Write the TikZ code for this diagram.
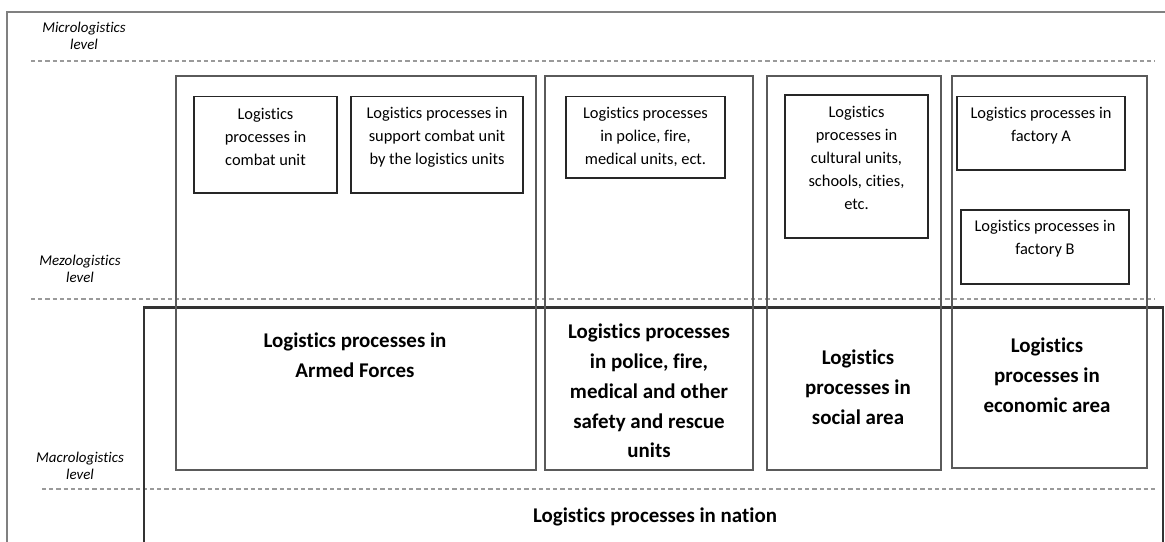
\documentclass[tikz,border=0pt]{standalone}
\usepackage{fontspec}
\setmainfont{Carlito}[Ligatures=NoCommon]
\definecolor{framegray}{HTML}{808080}
\definecolor{boxgray}{HTML}{5A5A5A}
\definecolor{nationgray}{HTML}{333333}
\definecolor{sepgray}{HTML}{9A9A9A}
\begin{document}
\begin{tikzpicture}[x=0.75pt,y=-0.75pt,
  level/.style={align=center,font=\fontsize{11.2}{12.8}\selectfont\itshape},
  unit/.style={align=center,font=\fontsize{12.3}{17.3}\selectfont},
  area/.style={align=center,font=\fontsize{15.7}{22.3}\selectfont\bfseries},
  sep/.style={dash pattern=on 3.2pt off 2.2pt,color=sepgray,line width=0.8pt},
  areabox/.style={line width=2.2pt,color=boxgray},
  unitbox/.style={line width=0.8pt,color=black!85}]
\useasboundingbox (0,0) rectangle (1165,542);

% frame and level separators
\draw[line width=1.3pt,color=framegray] (7,542) -- (7,12) -- (1165,12);
\draw[sep] (31,61) -- (1155,61);
\draw[sep] (31,299) -- (1155,299);
\draw[sep] (42,489) -- (1155,489);

\node[level] (micro) at (84,36) {Micrologistics\\level};
\node[level] (mezo) at (80,269) {Mezologistics\\level};
\node[level] (macro) at (80,466) {Macrologistics\\level};

% nation
\draw[line width=1.9pt,color=nationgray] (144,542) -- (144,307.5) -- (1163,307.5) -- (1163,542);
\node[area] (nation) at (655,517) {Logistics processes in nation};

% areas
\draw[areabox] (176,76) rectangle (536,470);
\draw[areabox] (545,76) rectangle (753,470);
\draw[areabox] (767,76) rectangle (941,470);
\draw[areabox] (952,76) rectangle (1147,468);

\node[area] (armed) at (355,355) {Logistics processes in\\Armed Forces};
\node[area] (safety) at (649,391) {Logistics processes\\in police, fire,\\medical and other\\safety and rescue\\units};
\node[area] (social) at (858,387) {Logistics\\processes in\\social area};
\node[area] (economic) at (1047,375) {Logistics\\processes in\\economic area};

% units
\draw[unitbox] (194,96.5) rectangle (337,193);
\draw[unitbox] (351,96.5) rectangle (523,193);
\draw[unitbox] (566,96.5) rectangle (725,178);
\draw[unitbox] (785,95) rectangle (928,238);
\draw[unitbox] (957,96.5) rectangle (1125,170);
\draw[unitbox] (961,210) rectangle (1129,284);

\node[unit] (combat) at (265.5,137) {Logistics\\processes in\\combat unit};
\node[unit] (support) at (437,137) {Logistics processes in\\support combat unit\\by the logistics units};
\node[unit] (police) at (645.5,137) {Logistics processes\\in police, fire,\\medical units, ect.};
\node[unit] (cultural) at (856.5,158) {Logistics\\processes in\\cultural units,\\schools, cities,\\etc.};
\node[unit] (factoryA) at (1041,126) {Logistics processes in\\factory A};
\node[unit] (factoryB) at (1045,239) {Logistics processes in\\factory B};
\end{tikzpicture}
\end{document}
